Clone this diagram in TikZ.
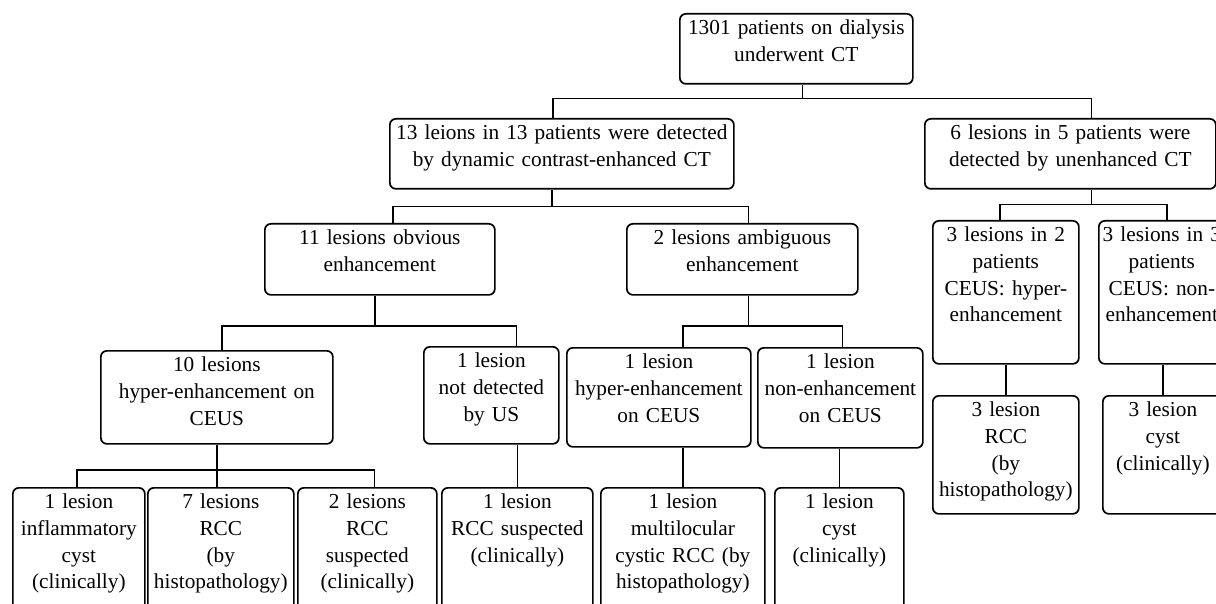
\documentclass[tikz,border=0pt]{standalone}
\usepackage{fontspec}
\setmainfont{Liberation Serif}
\usepackage{tikz}

\begin{document}
\begin{tikzpicture}[x=1pt,y=-1pt,
    box/.style={draw,line width=1.7pt,rounded corners=6pt,anchor=north west,align=center,
      inner xsep=2pt,inner ysep=6pt,text height=15pt,font=\fontsize{21.3}{26.7}\selectfont},
    link/.style={line width=1.6pt}]
    \clip (0,0) rectangle (1216,604);
    \node[box,text width=229pt,text depth=43pt] (n0) at (679,13) {1301 patients on dialysis\\underwent CT};
    \node[box,text width=340pt,text depth=43pt] (n1) at (389,118) {13 leions in 13 patients were detected\\by dynamic contrast-enhanced CT};
    \node[box,text width=287pt,text depth=43pt] (n2) at (924,118) {6 lesions in 5 patients were\\detected by unenhanced CT};
    \node[box,text width=226pt,text depth=44pt] (n3) at (264,223) {11 lesions obvious\\enhancement};
    \node[box,text width=227pt,text depth=44pt] (n4) at (626,223) {2 lesions ambiguous\\enhancement};
    \node[box,text width=142pt,text depth=116pt] (n5) at (932,220) {3 lesions in 2\\patients\\CEUS: hyper-\\enhancement};
    \node[box,text width=122pt,text depth=116pt] (n6) at (1098,220) {3 lesions in 3\\patients\\CEUS: non-\\enhancement};
    \node[box,text width=142pt,text depth=91pt] (n7) at (932,395) {3 lesion\\RCC\\(by\\histopathology)};
    \node[box,text width=116pt,text depth=91pt] (n8) at (1102,395) {3 lesion\\cyst\\(clinically)};
    \node[box,text width=228pt,text depth=66pt] (n9) at (100,350) {10 lesions\\hyper-enhancement on\\CEUS};
    \node[box,text width=131pt,text depth=70pt] (n10) at (423,346) {1 lesion\\not detected\\by US};
    \node[box,text width=180pt,text depth=72pt] (n11) at (566,347) {1 lesion\\hyper-enhancement\\on CEUS};
    \node[box,text width=161pt,text depth=73pt] (n12) at (757,347) {1 lesion\\non-enhancement\\on CEUS};
    \node[box,text width=128pt,text depth=123pt] (n13) at (12,487) {1 lesion\\inflammatory\\cyst\\(clinically)};
    \node[box,text width=142pt,text depth=123pt] (n14) at (147,487) {7 lesions\\RCC\\(by\\histopathology)};
    \node[box,text width=135pt,text depth=123pt] (n15) at (297,487) {2 lesions\\RCC\\suspected\\(clinically)};
    \node[box,text width=147pt,text depth=123pt] (n16) at (441,487) {1 lesion\\RCC suspected\\(clinically)};
    \node[box,text width=160pt,text depth=123pt] (n17) at (600,487) {1 lesion\\multilocular\\cystic RCC (by\\histopathology)};
    \node[box,text width=125pt,text depth=123pt] (n18) at (774,487) {1 lesion\\cyst\\(clinically)};

    \coordinate (b0) at ([xshift=6pt,yshift=-14pt]n0.south);
    \draw[link] (b0 |- n0.south) -- (b0);
    \draw[link] ([xshift=-9pt]n1.north) |- (b0) -| ([xshift=21pt]n2.north);
    \coordinate (b1) at ([xshift=-10pt,yshift=-17pt]n1.south);
    \draw[link] (b1 |- n1.south) -- (b1);
    \draw[link] ([xshift=13pt]n3.north) |- (b1) -| ([xshift=6pt]n4.north);
    \coordinate (b2) at ([xshift=21pt,yshift=-15pt]n2.south);
    \draw[link] (b2 |- n2.south) -- (b2);
    \draw[link] ([xshift=-6pt]n5.north) |- (b2) -| ([xshift=5pt]n6.north);
    \coordinate (b3) at ([xshift=-5pt,yshift=-30pt]n3.south);
    \draw[link] (b3 |- n3.south) -- (b3);
    \draw[link] ([xshift=5pt]n9.north) |- (b3) -| ([xshift=25pt]n10.north);
    \coordinate (b4) at ([xshift=6pt,yshift=-30pt]n4.south);
    \draw[link] (b4 |- n4.south) -- (b4);
    \draw[link] ([xshift=24pt]n11.north) |- (b4) -| ([xshift=2pt]n12.north);
    \coordinate (b9) at ([yshift=-25pt]n9.south);
    \draw[link] (n9.south) -- (n9.south |- n14.north);
    \draw[link] ([xshift=-2pt]n13.north) |- (b9) -| ([xshift=7pt]n15.north);
    \draw[link] (n16.north) -- (n16.north |- n10.south);
    \draw[link] (n17.north) -- (n17.north |- n11.south);
    \draw[link] (n18.north) -- (n18.north |- n12.south);
    \draw[link] (n7.north) -- (n7.north |- n5.south);
    \draw[link] (n8.north) -- (n8.north |- n6.south);
\end{tikzpicture}
\end{document}
